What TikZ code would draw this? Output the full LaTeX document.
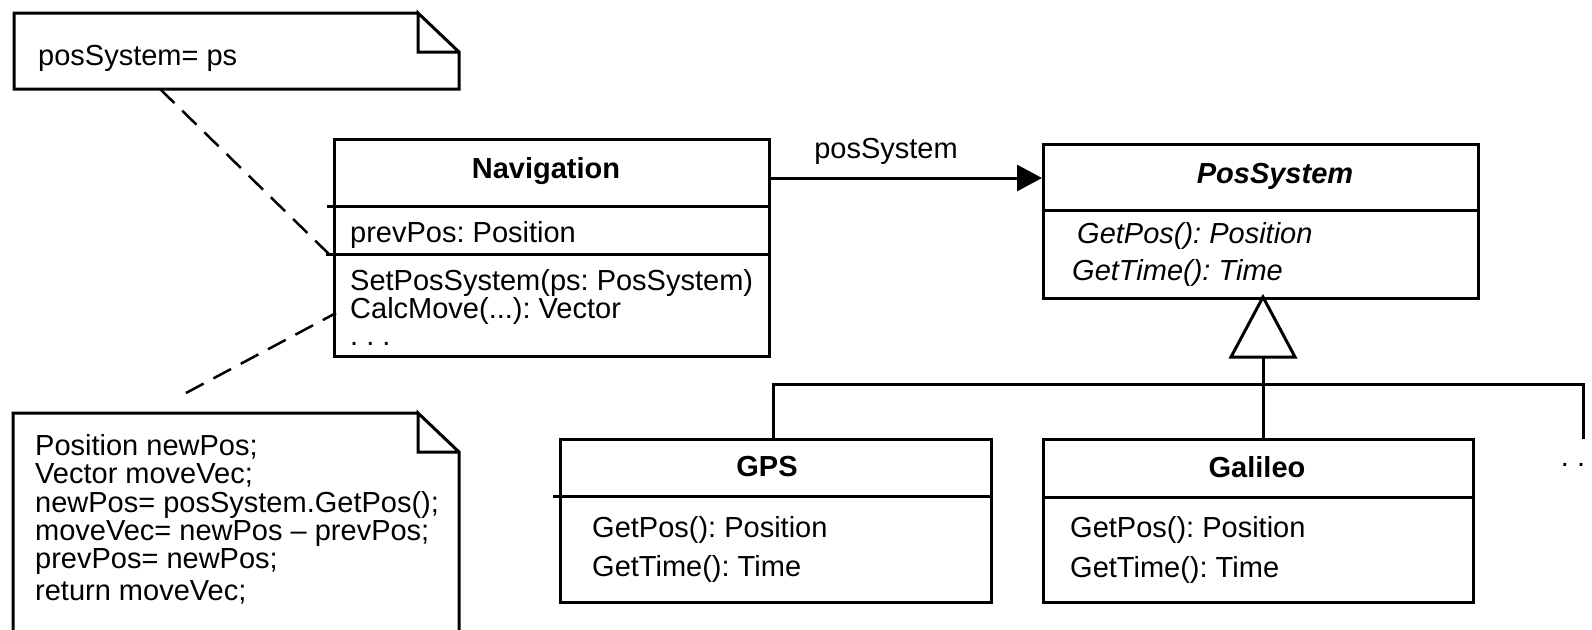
\documentclass[tikz,border=0pt]{standalone}
\usepackage{fontspec}
\setmainfont{Liberation Sans}
\usetikzlibrary{arrows.meta}
\frenchspacing
\tikzset{
  cls/.style={draw, line width=3pt, inner sep=0pt, anchor=north west},
  txt/.style={inner sep=0pt, anchor=base west, font=\fontsize{29}{30}\selectfont},
  ttl/.style={inner sep=0pt, anchor=base, font=\fontsize{29}{30}\selectfont\bfseries},
  ln/.style={line width=3pt},
  note/.style={line width=3pt, line join=miter},
  dsh/.style={line width=2.5pt, dash pattern=on 20pt off 11pt},
}
\begin{document}
\begin{tikzpicture}[x=1pt,y=-1pt]
\useasboundingbox (0,0) rectangle (1592,629);

% class boxes
\node[cls, minimum width=435pt, minimum height=217pt] (nav) at (333,138) {};
\node[cls, minimum width=435pt, minimum height=154pt] (posys) at (1042,143) {};
\node[cls, minimum width=431pt, minimum height=163pt] (gps) at (559,438) {};
\node[cls, minimum width=430pt, minimum height=163pt] (gal) at (1042,438) {};

% compartments
\draw[ln] (327,206) -- (768,206);
\draw[ln] (326,254) -- (768,254);
\draw[ln] (1042,210) -- (1477,210);
\draw[ln] (553,496) -- (990,496);
\draw[ln] (1042,497) -- (1472,497);

% texts
\node[ttl] (navT) at (546,178) {Navigation};
\node[txt] (navA) at (350,242) {prevPos: Position};
\node[txt] (navM1) at (350,290) {SetPosSystem(ps: PosSystem)};
\node[txt] (navM2) at (350,318) {CalcMove(...): Vector};
\node[txt] (navM3) at (350,345) {. . .};

\node[ttl, font=\fontsize{29}{30}\selectfont\bfseries\itshape] (posT) at (1275,183) {PosSystem};
\node[txt, font=\fontsize{29}{30}\selectfont\itshape] (posM1) at (1077,243) {GetPos(): Position};
\node[txt, font=\fontsize{29}{30}\selectfont\itshape] (posM2) at (1072,280) {GetTime(): Time};

\node[ttl] (gpsT) at (767,476) {GPS};
\node[txt] (gpsM1) at (592,537) {GetPos(): Position};
\node[txt] (gpsM2) at (592,576) {GetTime(): Time};

\node[ttl] (galT) at (1257,477) {Galileo};
\node[txt] (galM1) at (1070,537) {GetPos(): Position};
\node[txt] (galM2) at (1070,577) {GetTime(): Time};

\node[txt, anchor=base] (more) at (1573,466) {. .};

% association
\draw[ln, -{Triangle[length=25pt,width=26pt]}] ([yshift=-40pt]nav.north east) -- ([yshift=-35pt]posys.north west);
\node[txt, anchor=base] (assocL) at (886,158) {posSystem};

% generalization
\coordinate (apex) at (1263,297);
\coordinate (trib) at (1263,357);
\coordinate (busL) at (773,384);
\coordinate (busR) at (1583,384);
\coordinate (busE) at (1583,439);
\draw[ln, line join=miter] (apex) -- (1295,357) -- (1231,357) -- cycle;
\draw[ln] (trib) -- (trib |- gal.north);
\draw[ln] (gps.north -| busL) |- (busR) -- (busE);

% notes
\draw[note] (418,13) -- (14,13) -- (14,89) -- (459,89) -- (459,52) -- (418,13) -- (418,52) -- (459,52);
\node[txt] (note1) at (38,65) {posSystem= ps};

\draw[note] (418,413) -- (13,413) -- (13,640) -- (459,640) -- (459,452) -- (418,413) -- (418,452) -- (459,452);
\node[txt] (n2a) at (35,455) {Position newPos;};
\node[txt] (n2b) at (35,483) {Vector moveVec;};
\node[txt] (n2c) at (35,512) {newPos= posSystem.GetPos();};
\node[txt] (n2d) at (35,540) {moveVec= newPos – prevPos;};
\node[txt] (n2e) at (35,568) {prevPos= newPos;};
\node[txt] (n2f) at (35,600) {return moveVec;};

% note anchors
\coordinate (d1a) at (160,89);
\coordinate (d1b) at (333,258);
\coordinate (d2a) at (186,393);
\coordinate (d2b) at (336,313);
\draw[dsh] (d1a) -- (d1b);
\draw[dsh] (d2a) -- (d2b);
\end{tikzpicture}
\end{document}
